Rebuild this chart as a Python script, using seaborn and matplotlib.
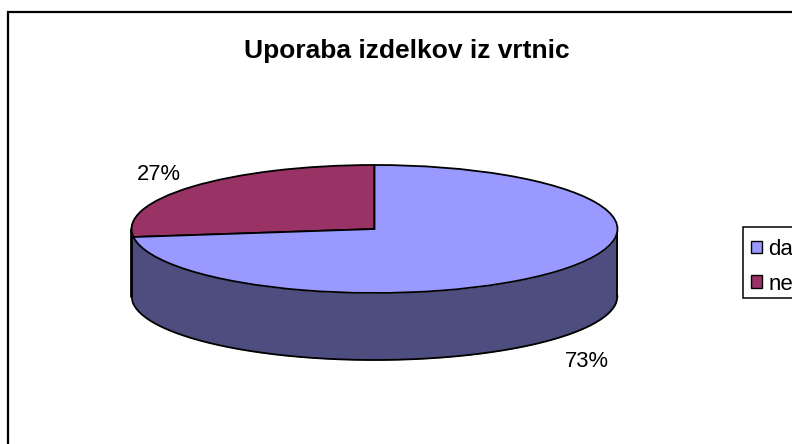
import numpy as np
import matplotlib
matplotlib.use("Agg")
import matplotlib.pyplot as plt
from matplotlib.patches import Rectangle
import seaborn as sns

categories = ["da", "ne"]
values = [73, 27]
colors = ["#9999FF", "#993366"]
side_color = "#4D4D7F"
title = "Uporaba izdelkov iz vrtnic"

sns.set_theme(style="white")
plt.rcParams["font.family"] = ["Liberation Sans", "DejaVu Sans"]

W, H = 792, 444
cx, cy, rx, ry, depth = 374.5, 229.0, 243.0, 64.0, 67.0

fig = plt.figure(figsize=(W / 100, H / 100), dpi=100, facecolor="white")
ax = fig.add_axes([0, 0, 1, 1])

# slices start at 12 o'clock: "ne" runs counter-clockwise from the top, "da" takes the rest
wedges, _ = ax.pie(
    values[::-1], colors=colors[::-1], startangle=90, radius=1.0, center=(0, 0),
    wedgeprops=dict(edgecolor="black", linewidth=1.3, zorder=3),
)
ax.set_aspect("auto")
ax.set_xlim(-cx / rx, (W - cx) / rx)
ax.set_ylim((cy - H) / ry, cy / ry)
ax.axis("off")


def ux(px):
    return (px - cx) / rx


def uy(py):
    return (cy - py) / ry


# side wall of the disc
t = np.linspace(-1, 1, 400)
low = -np.sqrt(1 - t ** 2)
d = depth / ry
ax.fill_between(t, low, low - d, color=side_color, zorder=1, lw=0)
ax.plot(t, low - d, color="black", lw=1.3, zorder=2)
ax.plot([-1, -1], [0, -d], color="black", lw=2.0, zorder=2)
ax.plot([1, 1], [0, -d], color="black", lw=1.3, zorder=2)

ax.text(ux(159), uy(174), f"{values[1]}%", ha="center", va="center", fontsize=15.8, color="black")
ax.text(ux(587), uy(361), f"{values[0]}%", ha="center", va="center", fontsize=15.8, color="black")

fig.text(407 / W, 1 - 51 / H, title, ha="center", va="center", fontsize=19, fontweight="bold", color="black")

# chart frame, running off the right and bottom of the picture
fig.add_artist(Rectangle((7.5 / W, -0.1), 1.0, 1.1 - 12.5 / H, transform=fig.transFigure,
                         fill=False, edgecolor="black", linewidth=1.6))

# legend box, also running off the right of the picture
fig.add_artist(Rectangle((743 / W, 1 - 298 / H), 0.2, 71 / H, transform=fig.transFigure,
                         facecolor="white", edgecolor="black", linewidth=1.1))

handles = [Rectangle((0, 0), 1, 1, facecolor=c, edgecolor="black", linewidth=1.0) for c in colors]
leg = fig.legend(handles, categories, loc="lower left",
                 bbox_to_anchor=(742 / W, 1 - 304 / H), bbox_transform=fig.transFigure,
                 borderaxespad=0, borderpad=0.42, fontsize=16, frameon=False,
                 handlelength=0.5, handleheight=0.5,
                 handletextpad=0.27, labelspacing=0.62, labelcolor="black")

fig.savefig("out.png", dpi=100)
